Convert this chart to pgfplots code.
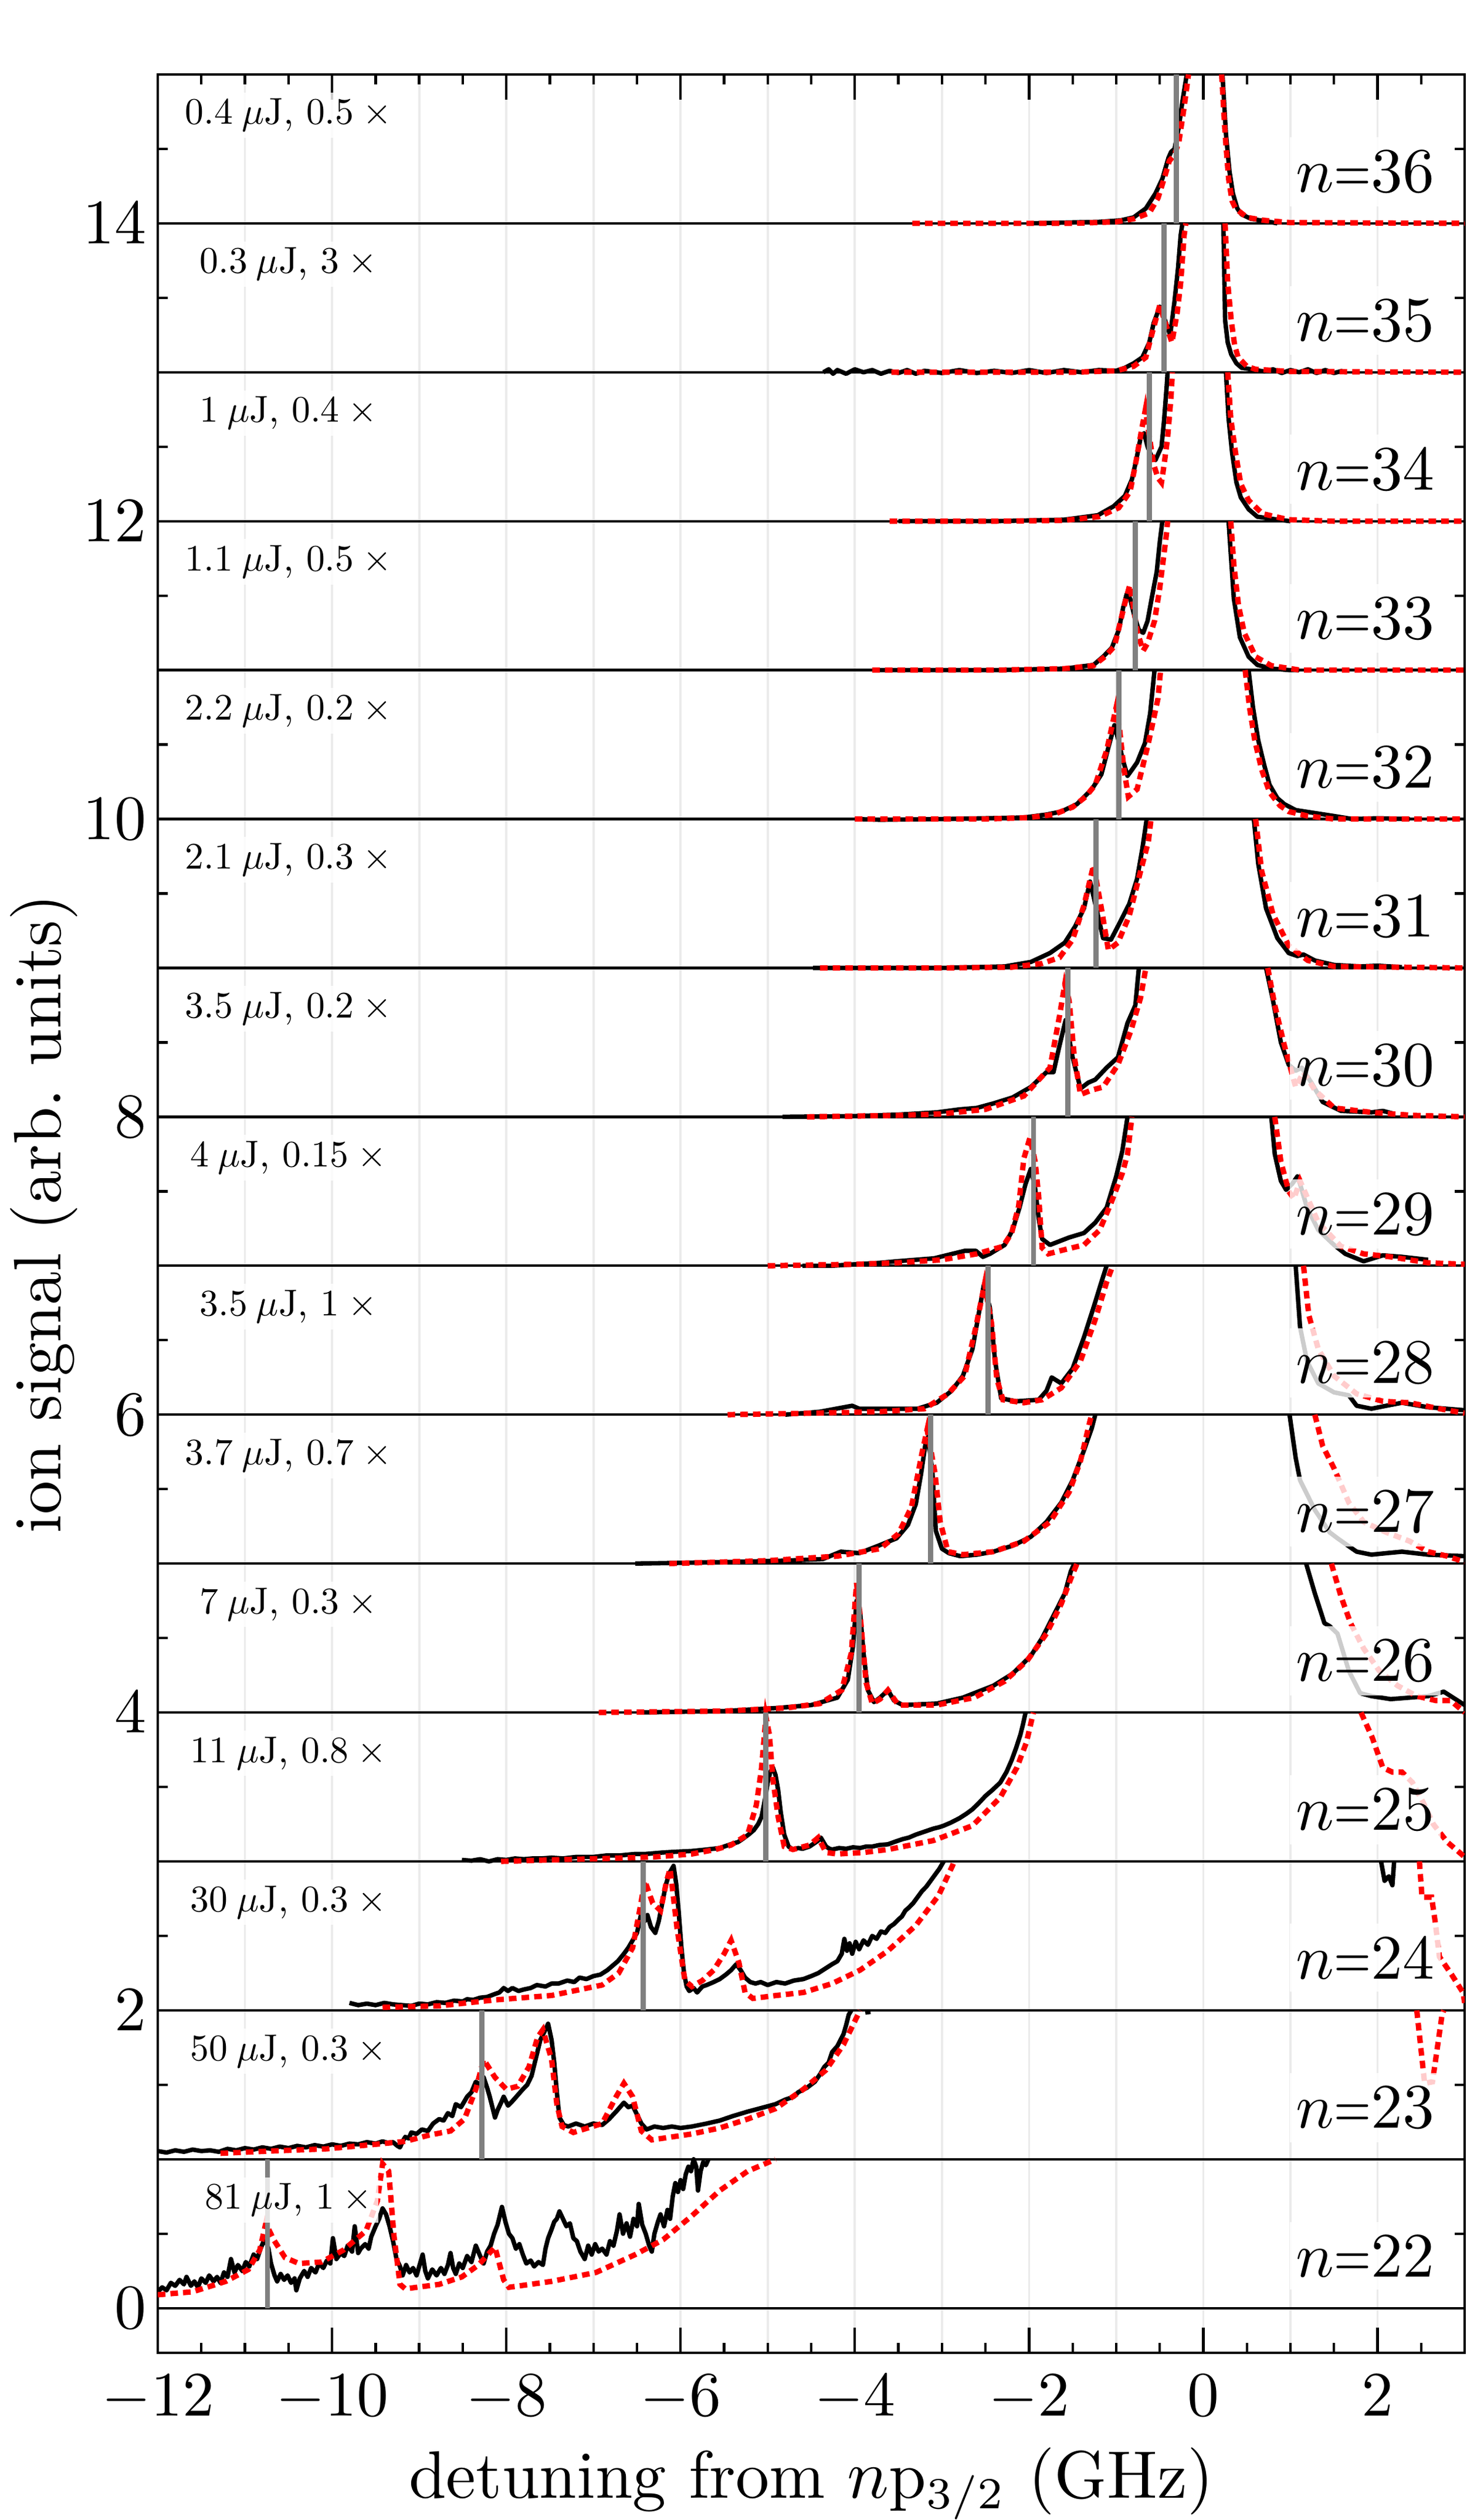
\documentclass[border=0pt]{standalone}
\usepackage{graphicx}
\usepackage{pgfplots}
\pgfplotsset{compat=1.18}
\newcommand{\nlab}[1]{$n$\scalebox{0.75}[1]{=}#1}
\newcommand{\slab}[2]{\scalebox{0.59}{\fontsize{10}{12}\selectfont #1\kern2.3pt$\mu$J, #2\kern2.3pt$\times$}}
\tikzset{
  blk/.style={black, line width=0.7pt, line join=round},
  thy/.style={red, line width=0.85pt, dash pattern=on 1.2pt off 0.8pt},
  mk/.style={black!50, line width=0.8pt},
  nbox/.style={fill=white, fill opacity=0.8, text opacity=1, inner xsep=1pt, inner ysep=2pt, anchor=base east, font=\fontsize{10}{12}\selectfont},
  sbox/.style={fill=white, fill opacity=0.8, text opacity=1, inner sep=1pt, anchor=base},
}
\begin{document}
\begin{tikzpicture}
\begin{axis}[
  name=ax,
  scale only axis, width=206.30pt, height=359.72pt,
  xmin=-12, xmax=3, ymin=-0.3, ymax=15,
  no marks, unbounded coords=jump,
  xtick={-12,-10,...,2},
  minor xtick={-11.5,-10.5,...,2.5},
  extra x ticks={-11,-9,...,1},
  extra x tick labels={},
  extra x tick style={grid=major, major tick length=1.6pt},
  xmajorgrids,
  major grid style={black!8, line width=0.35pt},
  ytick={0,2,...,14},
  minor ytick={0.5,1.5,...,14.5},
  major tick length=4pt, minor tick length=1.6pt,
  tick style={black, line width=0.4pt},
  ticklabel style={font=\fontsize{10}{12}\selectfont},
  yticklabel style={inner xsep=1.6pt},
  xlabel={detuning from $n$p$_{3/2}$ (GHz)},
  ylabel={ion signal (arb.\ units)},
  xlabel style={font=\fontsize{10.6}{13}\selectfont, at={(axis description cs:0.5,-0.0638)}, anchor=base},
  ylabel style={font=\fontsize{10.6}{13}\selectfont, at={(axis description cs:-0.0745,0.5)}, anchor=base},
]
% baselines
\addplot[black, line width=0.4pt] coordinates {
(-12,0)(3,0)(3,nan)(-12,1)(3,1)(3,nan)(-12,2)(3,2)(3,nan)(-12,3)(3,3)(3,nan)
(-12,4)(3,4)(3,nan)(-12,5)(3,5)(3,nan)(-12,6)(3,6)(3,nan)(-12,7)(3,7)(3,nan)
(-12,8)(3,8)(3,nan)(-12,9)(3,9)(3,nan)(-12,10)(3,10)(3,nan)(-12,11)(3,11)(3,nan)
(-12,12)(3,12)(3,nan)(-12,13)(3,13)(3,nan)(-12,14)(3,14)};

% ---------- n=36 ----------
\addplot[blk] coordinates {(-2.0,14.0)(-1.6,14.005)(-1.2,14.01)(-0.95,14.02)(-0.8,14.04)(-0.66,14.1)(-0.55,14.2)(-0.47,14.3)(-0.4,14.44)(-0.37,14.48)(-0.33,14.5)(-0.28,14.65)(-0.24,14.82)(-0.19,15.0)(0,nan)(0.22,15.0)(0.26,14.6)(0.3,14.35)(0.34,14.2)(0.39,14.1)(0.44,14.06)(0.55,14.03)(0.76,14.01)(0.85,14.0)};
\addplot[thy] coordinates {(-3.34,14.0)(-1.5,14.0)(-1.0,14.01)(-0.8,14.03)(-0.62,14.07)(-0.52,14.17)(-0.45,14.3)(-0.39,14.42)(-0.33,14.46)(-0.28,14.55)(-0.22,14.78)(-0.17,15.0)(0,nan)(0.21,15.0)(0.25,14.6)(0.29,14.3)(0.33,14.15)(0.37,14.1)(0.5,14.04)(0.7,14.02)(1.0,14.005)(3.0,14.0)};
% ---------- n=35 ----------
\addplot[blk] coordinates {(-4.36,13.0)(-4.3,13.02)(-4.25,12.99)(-4.2,13.015)(-4.1,12.99)(-4.0,13.02)(-3.9,13.0)(-3.8,13.015)(-3.7,12.99)(-3.6,13.01)(-3.5,12.995)(-3.4,13.015)(-3.3,12.99)(-3.2,13.01)(-3.0,12.995)(-2.8,13.015)(-2.6,12.995)(-2.4,13.01)(-2.2,12.995)(-2.0,13.015)(-1.8,12.995)(-1.6,13.015)(-1.4,13.0)(-1.2,13.015)(-1.0,13.01)(-0.9,13.03)(-0.8,13.06)(-0.7,13.1)(-0.62,13.2)(-0.57,13.33)(-0.5,13.44)(-0.44,13.35)(-0.38,13.25)(-0.33,13.48)(-0.29,13.7)(-0.26,13.92)(-0.24,14.0)(0,nan)(0.23,14.0)(0.25,13.35)(0.28,13.2)(0.32,13.12)(0.38,13.06)(0.44,13.03)(0.55,13.02)(0.7,13.005)(0.8,13.02)(0.9,12.995)(1.0,13.015)(1.1,13.0)(1.2,13.02)(1.3,12.995)(1.4,13.015)(1.5,12.995)(1.6,13.01)};
\addplot[thy] coordinates {(-3.58,13.0)(-1.5,13.0)(-1.0,13.01)(-0.8,13.04)(-0.66,13.1)(-0.58,13.28)(-0.5,13.45)(-0.43,13.32)(-0.36,13.2)(-0.3,13.4)(-0.26,13.6)(-0.22,13.92)(-0.2,14.0)(0,nan)(0.25,14.0)(0.28,13.6)(0.32,13.35)(0.36,13.18)(0.4,13.1)(0.5,13.04)(0.6,13.02)(1.0,13.005)(3.0,13.0)};
% ---------- n=34 ----------
\addplot[blk] coordinates {(-3.5,12.0)(-2.4,12.0)(-1.6,12.01)(-1.21,12.04)(-1.03,12.1)(-0.9,12.17)(-0.82,12.28)(-0.77,12.41)(-0.72,12.56)(-0.68,12.59)(-0.64,12.5)(-0.59,12.43)(-0.55,12.41)(-0.48,12.5)(-0.45,12.68)(-0.42,12.91)(-0.41,13.0)(0,nan)(0.26,13.0)(0.29,12.69)(0.33,12.46)(0.38,12.26)(0.43,12.16)(0.52,12.08)(0.62,12.03)(0.86,12.01)(1.0,12.0)};
\addplot[thy] coordinates {(-3.6,12.0)(-2.4,12.0)(-1.6,12.005)(-1.2,12.03)(-0.97,12.09)(-0.84,12.2)(-0.77,12.41)(-0.7,12.64)(-0.665,12.75)(-0.63,12.61)(-0.57,12.38)(-0.52,12.29)(-0.48,12.26)(-0.45,12.38)(-0.41,12.56)(-0.37,12.84)(-0.355,13.0)(0,nan)(0.28,13.0)(0.315,12.69)(0.37,12.46)(0.43,12.25)(0.52,12.14)(0.68,12.05)(0.98,12.01)(1.5,12.0)(3.0,12.0)};
% ---------- n=33 ----------
\addplot[blk] coordinates {(-3.8,11.0)(-2.37,11.0)(-1.59,11.01)(-1.26,11.035)(-1.15,11.09)(-1.05,11.15)(-0.97,11.27)(-0.92,11.42)(-0.88,11.51)(-0.84,11.48)(-0.79,11.36)(-0.74,11.27)(-0.69,11.25)(-0.64,11.33)(-0.59,11.49)(-0.535,11.66)(-0.5,11.86)(-0.47,12.0)(0,nan)(0.29,12.0)(0.315,11.78)(0.35,11.48)(0.42,11.22)(0.52,11.09)(0.62,11.035)(0.78,11.01)(0.99,11.0)(1.1,11.0)};
\addplot[thy] coordinates {(-3.8,11.0)(-2.37,11.0)(-1.59,11.01)(-1.26,11.03)(-1.13,11.09)(-1.02,11.16)(-0.95,11.33)(-0.9,11.45)(-0.845,11.57)(-0.81,11.45)(-0.755,11.25)(-0.69,11.13)(-0.64,11.18)(-0.56,11.33)(-0.5,11.55)(-0.445,11.81)(-0.42,11.93)(-0.41,12.0)(0,nan)(0.315,12.0)(0.35,11.71)(0.405,11.43)(0.47,11.25)(0.6,11.09)(0.78,11.03)(1.11,11.0)(3.0,11.0)};
% ---------- n=32 ----------
\addplot[blk] coordinates {(-4.0,10.0)(-3.71,9.995)(-3.0,10.0)(-2.5,10.005)(-2.06,10.01)(-1.8,10.03)(-1.63,10.05)(-1.45,10.1)(-1.28,10.2)(-1.17,10.3)(-1.09,10.48)(-1.02,10.63)(-0.97,10.52)(-0.93,10.41)(-0.87,10.29)(-0.82,10.33)(-0.76,10.38)(-0.67,10.51)(-0.61,10.71)(-0.56,11.0)(0,nan)(0.52,11.0)(0.57,10.75)(0.63,10.53)(0.7,10.36)(0.76,10.23)(0.85,10.14)(0.93,10.1)(1.06,10.06)(1.28,10.04)(1.5,10.02)(1.71,10.0)(2.0,10.005)(2.37,10.0)};
\addplot[thy] coordinates {(-4.0,10.0)(-2.5,10.0)(-2.0,10.01)(-1.72,10.03)(-1.5,10.08)(-1.35,10.15)(-1.24,10.23)(-1.11,10.46)(-1.0,10.75)(-0.96,10.6)(-0.91,10.33)(-0.86,10.15)(-0.76,10.2)(-0.63,10.51)(-0.52,10.81)(-0.49,11.0)(0,nan)(0.48,11.0)(0.53,10.75)(0.59,10.53)(0.67,10.33)(0.76,10.18)(0.88,10.09)(0.98,10.05)(1.2,10.02)(1.5,10.0)(3.0,10.0)};
% ---------- n=31 ----------
\addplot[blk] coordinates {(-4.48,9.0)(-3.0,9.0)(-2.28,9.01)(-1.98,9.04)(-1.76,9.1)(-1.59,9.17)(-1.47,9.28)(-1.37,9.4)(-1.3,9.58)(-1.24,9.43)(-1.15,9.2)(-1.06,9.19)(-0.98,9.28)(-0.85,9.43)(-0.76,9.6)(-0.7,9.8)(-0.65,10.0)(0,nan)(0.58,10.0)(0.63,9.7)(0.72,9.4)(0.85,9.2)(0.98,9.1)(1.08,9.08)(1.15,9.09)(1.28,9.05)(1.5,9.02)(1.8,9.01)(2.0,9.015)(2.28,9.005)};
\addplot[thy] coordinates {(-4.4,9.0)(-3.0,9.0)(-2.2,9.005)(-1.85,9.03)(-1.65,9.07)(-1.5,9.19)(-1.37,9.42)(-1.26,9.69)(-1.17,9.4)(-1.09,9.12)(-0.98,9.17)(-0.85,9.35)(-0.72,9.65)(-0.63,9.85)(-0.6,10.0)(0,nan)(0.6,10.0)(0.67,9.65)(0.8,9.36)(0.98,9.15)(1.2,9.05)(1.5,9.01)(3.0,9.0)};
% ---------- n=30 ----------
\addplot[blk] coordinates {(-4.83,8.0)(-4.0,8.005)(-3.5,8.015)(-3.06,8.03)(-2.8,8.05)(-2.6,8.06)(-2.41,8.09)(-2.19,8.13)(-1.98,8.2)(-1.8,8.3)(-1.72,8.3)(-1.65,8.48)(-1.58,8.65)(-1.5,8.4)(-1.41,8.19)(-1.32,8.23)(-1.24,8.25)(-1.11,8.33)(-0.98,8.4)(-0.87,8.63)(-0.78,8.75)(-0.74,9.0)(0,nan)(0.72,9.0)(0.8,8.78)(0.89,8.5)(0.98,8.35)(1.06,8.31)(1.13,8.33)(1.24,8.23)(1.37,8.1)(1.58,8.04)(1.93,8.03)(2.06,8.04)(2.19,8.02)};
\addplot[thy] coordinates {(-4.55,8.0)(-3.5,8.01)(-3.0,8.02)(-2.5,8.05)(-2.06,8.14)(-1.76,8.33)(-1.65,8.68)(-1.59,8.89)(-1.54,8.78)(-1.48,8.4)(-1.41,8.15)(-1.28,8.18)(-1.15,8.2)(-0.98,8.35)(-0.83,8.58)(-0.72,8.8)(-0.66,9.0)(0,nan)(0.74,9.0)(0.82,8.75)(0.93,8.48)(1.06,8.2)(1.15,8.3)(1.28,8.18)(1.5,8.06)(1.93,8.03)(2.4,8.01)(3.0,8.0)};
% ---------- n=29 ----------
\addplot[blk] coordinates {(-4.6,7.0)(-4.27,7.0)(-3.71,7.02)(-3.52,7.03)(-3.09,7.05)(-2.74,7.1)(-2.61,7.1)(-2.53,7.06)(-2.45,7.08)(-2.28,7.14)(-2.19,7.24)(-2.11,7.39)(-2.04,7.55)(-1.98,7.65)(-1.93,7.52)(-1.89,7.32)(-1.85,7.18)(-1.76,7.14)(-1.54,7.19)(-1.37,7.22)(-1.24,7.29)(-1.11,7.39)(-1.0,7.6)(-0.93,7.77)(-0.87,8.0)(0,nan)(0.78,8.0)(0.82,7.75)(0.89,7.57)(0.95,7.51)(1.02,7.55)(1.08,7.6)(1.11,7.55)(1.19,7.39)(1.32,7.24)(1.5,7.14)(1.63,7.08)(1.84,7.03)(2.06,7.07)(2.28,7.06)(2.58,7.04)};
\addplot[thy] coordinates {(-5.0,7.0)(-4.0,7.01)(-3.5,7.02)(-3.0,7.04)(-2.6,7.08)(-2.3,7.13)(-2.2,7.22)(-2.12,7.4)(-2.06,7.72)(-1.99,7.86)(-1.93,7.7)(-1.89,7.47)(-1.85,7.12)(-1.78,7.08)(-1.58,7.11)(-1.37,7.14)(-1.19,7.24)(-1.06,7.42)(-0.93,7.62)(-0.87,7.75)(-0.82,8.0)(0,nan)(0.82,8.0)(0.89,7.7)(0.98,7.5)(1.04,7.45)(1.11,7.57)(1.2,7.45)(1.32,7.29)(1.58,7.13)(1.84,7.08)(2.15,7.06)(2.58,7.02)(3.0,7.01)};
% ---------- n=28 ----------
\addplot[blk] coordinates {(-4.8,6.0)(-4.4,6.02)(-4.03,6.06)(-3.95,6.04)(-3.71,6.04)(-3.28,6.04)(-3.06,6.08)(-2.89,6.16)(-2.76,6.26)(-2.65,6.44)(-2.58,6.67)(-2.52,6.87)(-2.45,6.72)(-2.39,6.36)(-2.32,6.11)(-2.15,6.09)(-1.89,6.1)(-1.8,6.16)(-1.74,6.25)(-1.63,6.21)(-1.5,6.31)(-1.37,6.52)(-1.26,6.72)(-1.17,6.89)(-1.11,7.0)(0,nan)(1.06,7.0)(1.11,6.59)(1.19,6.36)(1.32,6.21)(1.5,6.15)(1.67,6.13)(1.76,6.06)(1.93,6.04)(2.1,6.06)(2.28,6.08)(2.58,6.05)(3.0,6.03)};
\addplot[thy] coordinates {(-5.46,6.0)(-4.5,6.01)(-3.71,6.02)(-3.2,6.04)(-2.93,6.14)(-2.74,6.26)(-2.61,6.59)(-2.51,6.88)(-2.43,6.61)(-2.37,6.24)(-2.3,6.1)(-2.06,6.08)(-1.85,6.1)(-1.63,6.18)(-1.41,6.36)(-1.24,6.64)(-1.11,6.89)(-1.04,7.0)(0,nan)(1.15,7.0)(1.21,6.67)(1.32,6.44)(1.5,6.26)(1.76,6.14)(2.06,6.09)(2.37,6.08)(2.71,6.04)(3.0,6.01)};
% ---------- n=27 ----------
\addplot[blk] coordinates {(-6.52,5.0)(-5.5,5.01)(-4.8,5.02)(-4.37,5.03)(-4.16,5.08)(-3.95,5.07)(-3.73,5.12)(-3.52,5.17)(-3.39,5.26)(-3.3,5.4)(-3.24,5.6)(-3.19,5.8)(-3.16,5.85)(-3.11,5.62)(-3.07,5.22)(-3.0,5.1)(-2.92,5.07)(-2.79,5.05)(-2.6,5.06)(-2.41,5.08)(-2.19,5.12)(-1.98,5.18)(-1.8,5.28)(-1.63,5.41)(-1.5,5.56)(-1.37,5.76)(-1.28,5.91)(-1.24,6.0)(0,nan)(0.99,6.0)(1.06,5.71)(1.11,5.56)(1.28,5.36)(1.45,5.21)(1.54,5.17)(1.71,5.1)(1.76,5.08)(1.93,5.06)(2.1,5.07)(2.28,5.08)(2.58,5.06)(3.0,5.05)};
\addplot[thy] coordinates {(-6.13,5.0)(-5.0,5.02)(-4.2,5.05)(-3.71,5.1)(-3.5,5.2)(-3.35,5.38)(-3.23,5.74)(-3.17,5.9)(-3.08,5.61)(-3.02,5.28)(-2.93,5.08)(-2.76,5.06)(-2.41,5.08)(-2.06,5.15)(-1.76,5.28)(-1.54,5.48)(-1.41,5.69)(-1.3,5.96)(-1.28,6.0)(0,nan)(1.28,6.0)(1.37,5.79)(1.5,5.64)(1.67,5.41)(1.84,5.28)(2.1,5.21)(2.37,5.15)(2.58,5.08)(2.8,5.05)(3.0,5.01)};
% ---------- n=26 ----------
\addplot[blk] coordinates {(-6.5,4.0)(-5.5,4.01)(-4.9,4.03)(-4.5,4.05)(-4.2,4.1)(-4.08,4.22)(-4.02,4.45)(-3.98,4.75)(-3.94,4.68)(-3.9,4.4)(-3.85,4.15)(-3.78,4.07)(-3.71,4.1)(-3.62,4.15)(-3.55,4.08)(-3.45,4.05)(-3.06,4.06)(-2.76,4.1)(-2.41,4.18)(-2.19,4.26)(-1.98,4.38)(-1.85,4.5)(-1.72,4.65)(-1.59,4.8)(-1.52,4.95)(-1.48,5.0)(0,nan)(1.18,5.0)(1.28,4.8)(1.39,4.6)(1.45,4.58)(1.54,4.53)(1.67,4.28)(1.8,4.13)(1.93,4.11)(2.15,4.09)(2.37,4.1)(2.58,4.11)(2.76,4.14)(3.0,4.05)};
\addplot[thy] coordinates {(-6.94,4.0)(-5.5,4.01)(-4.8,4.03)(-4.4,4.06)(-4.15,4.15)(-4.04,4.4)(-3.98,4.87)(-3.93,4.6)(-3.87,4.2)(-3.8,4.06)(-3.71,4.09)(-3.62,4.15)(-3.5,4.05)(-3.06,4.05)(-2.63,4.1)(-2.28,4.21)(-2.02,4.35)(-1.8,4.53)(-1.63,4.73)(-1.52,4.9)(-1.45,5.0)(0,nan)(1.47,5.0)(1.58,4.78)(1.69,4.6)(1.84,4.43)(2.02,4.28)(2.23,4.18)(2.45,4.11)(2.67,4.08)(2.84,4.08)(3.0,4.0)};
% ---------- n=25 ----------
\addplot[blk] coordinates {(-8.51,3.01)(-8.4,3.005)(-8.3,3.015)(-8.2,3.0)(-8.1,3.015)(-8.0,3.01)(-7.9,3.02)(-7.8,3.015)(-7.7,3.02)(-7.6,3.02)(-7.48,3.025)(-7.35,3.02)(-7.2,3.03)(-7.0,3.03)(-6.85,3.04)(-6.7,3.04)(-6.52,3.05)(-6.4,3.05)(-6.2,3.06)(-6.05,3.065)(-5.87,3.07)(-5.7,3.08)(-5.55,3.09)(-5.45,3.11)(-5.4,3.12)(-5.34,3.13)(-5.29,3.15)(-5.22,3.18)(-5.16,3.21)(-5.11,3.25)(-5.07,3.3)(-5.03,3.42)(-5.0,3.53)(-4.97,3.6)(-4.94,3.63)(-4.91,3.58)(-4.88,3.48)(-4.85,3.33)(-4.81,3.18)(-4.76,3.1)(-4.71,3.08)(-4.65,3.09)(-4.6,3.085)(-4.52,3.1)(-4.47,3.12)(-4.42,3.14)(-4.39,3.16)(-4.36,3.13)(-4.33,3.1)(-4.29,3.085)(-4.26,3.08)(-4.18,3.09)(-4.1,3.085)(-4.02,3.095)(-3.94,3.09)(-3.87,3.1)(-3.8,3.1)(-3.72,3.11)(-3.62,3.115)(-3.55,3.13)(-3.45,3.15)(-3.38,3.16)(-3.3,3.18)(-3.2,3.2)(-3.1,3.22)(-3.03,3.23)(-2.98,3.24)(-2.9,3.26)(-2.8,3.29)(-2.72,3.32)(-2.65,3.35)(-2.58,3.39)(-2.5,3.44)(-2.42,3.48)(-2.33,3.53)(-2.26,3.6)(-2.2,3.68)(-2.15,3.76)(-2.1,3.85)(-2.07,3.92)(-2.04,4.0)};
\addplot[thy] coordinates {(-8.06,3.0)(-7.5,3.01)(-6.84,3.02)(-6.3,3.03)(-5.87,3.05)(-5.6,3.08)(-5.42,3.11)(-5.23,3.18)(-5.13,3.38)(-5.07,3.63)(-5.02,3.97)(-4.98,3.85)(-4.94,3.55)(-4.88,3.3)(-4.81,3.1)(-4.71,3.08)(-4.52,3.11)(-4.42,3.16)(-4.33,3.06)(-4.2,3.05)(-3.9,3.06)(-3.62,3.08)(-3.1,3.14)(-2.65,3.24)(-2.33,3.43)(-2.14,3.63)(-2.03,3.8)(-1.95,4.0)(0,nan)(1.81,4.0)(1.94,3.83)(2.06,3.63)(2.17,3.6)(2.28,3.6)(2.4,3.53)(2.52,3.4)(2.64,3.25)(2.8,3.13)(2.98,3.04)(3.0,3.03)};
% ---------- n=24 ----------
\addplot[blk] coordinates {(-9.8,2.05)(-9.7,2.035)(-9.6,2.045)(-9.5,2.035)(-9.4,2.05)(-9.3,2.04)(-9.2,2.035)(-9.09,2.03)(-9.0,2.045)(-8.9,2.04)(-8.8,2.055)(-8.7,2.05)(-8.6,2.065)(-8.5,2.06)(-8.45,2.075)(-8.38,2.07)(-8.3,2.085)(-8.22,2.09)(-8.13,2.11)(-8.08,2.12)(-8.03,2.15)(-7.98,2.13)(-7.93,2.15)(-7.86,2.13)(-7.8,2.14)(-7.72,2.15)(-7.65,2.17)(-7.55,2.16)(-7.48,2.18)(-7.4,2.18)(-7.3,2.2)(-7.22,2.19)(-7.16,2.22)(-7.08,2.21)(-7.0,2.23)(-6.92,2.24)(-6.84,2.27)(-6.78,2.3)(-6.72,2.33)(-6.65,2.38)(-6.6,2.42)(-6.55,2.47)(-6.5,2.52)(-6.47,2.6)(-6.44,2.68)(-6.41,2.6)(-6.38,2.64)(-6.34,2.56)(-6.29,2.52)(-6.25,2.6)(-6.21,2.72)(-6.17,2.84)(-6.13,2.92)(-6.08,2.97)(-6.05,2.85)(-6.02,2.65)(-5.99,2.42)(-5.96,2.25)(-5.93,2.16)(-5.9,2.13)(-5.85,2.15)(-5.81,2.12)(-5.75,2.16)(-5.7,2.17)(-5.62,2.19)(-5.55,2.21)(-5.48,2.24)(-5.42,2.27)(-5.36,2.31)(-5.31,2.27)(-5.26,2.22)(-5.2,2.19)(-5.14,2.18)(-5.08,2.19)(-5.0,2.17)(-4.9,2.19)(-4.8,2.18)(-4.7,2.2)(-4.59,2.21)(-4.5,2.23)(-4.42,2.25)(-4.34,2.28)(-4.26,2.31)(-4.2,2.33)(-4.15,2.38)(-4.12,2.48)(-4.09,2.4)(-4.06,2.45)(-4.03,2.38)(-3.99,2.46)(-3.95,2.41)(-3.9,2.47)(-3.85,2.44)(-3.8,2.5)(-3.75,2.48)(-3.7,2.53)(-3.65,2.52)(-3.6,2.56)(-3.55,2.58)(-3.5,2.61)(-3.46,2.63)(-3.42,2.67)(-3.38,2.69)(-3.33,2.72)(-3.28,2.76)(-3.23,2.8)(-3.18,2.83)(-3.13,2.87)(-3.08,2.91)(-3.03,2.95)(-2.98,3.0)(0,nan)(2.04,3.0)(2.08,2.87)(2.13,2.9)(2.17,2.84)(2.19,3.0)};
\addplot[thy] coordinates {(-9.42,2.02)(-8.77,2.03)(-8.13,2.07)(-7.48,2.1)(-6.9,2.17)(-6.71,2.25)(-6.55,2.42)(-6.47,2.67)(-6.41,2.87)(-6.32,2.72)(-6.23,2.67)(-6.16,2.87)(-6.12,2.95)(-6.04,2.55)(-5.95,2.2)(-5.87,2.16)(-5.75,2.2)(-5.62,2.27)(-5.5,2.38)(-5.42,2.47)(-5.33,2.32)(-5.26,2.12)(-5.17,2.08)(-4.9,2.1)(-4.59,2.12)(-4.26,2.18)(-3.94,2.27)(-3.62,2.4)(-3.3,2.57)(-3.04,2.77)(-2.88,2.97)(-2.86,3.0)(0,nan)(2.48,3.0)(2.51,2.76)(2.62,2.76)(2.66,2.6)(2.71,2.36)(2.85,2.24)(2.98,2.12)(3.0,2.05)};
% ---------- n=23 ----------
\addplot[blk] coordinates {(-12.0,1.055)(-11.9,1.045)(-11.8,1.06)(-11.7,1.05)(-11.6,1.065)(-11.5,1.055)(-11.4,1.06)(-11.3,1.05)(-11.2,1.07)(-11.1,1.06)(-11.0,1.075)(-10.9,1.065)(-10.8,1.08)(-10.7,1.07)(-10.6,1.085)(-10.5,1.075)(-10.4,1.09)(-10.3,1.08)(-10.2,1.095)(-10.1,1.085)(-10.0,1.1)(-9.9,1.09)(-9.8,1.105)(-9.7,1.1)(-9.6,1.115)(-9.5,1.105)(-9.42,1.12)(-9.36,1.11)(-9.3,1.115)(-9.25,1.09)(-9.22,1.08)(-9.19,1.12)(-9.16,1.15)(-9.12,1.14)(-9.09,1.18)(-9.03,1.17)(-8.97,1.2)(-8.9,1.19)(-8.84,1.24)(-8.77,1.27)(-8.72,1.26)(-8.67,1.31)(-8.62,1.29)(-8.58,1.37)(-8.52,1.35)(-8.45,1.42)(-8.4,1.45)(-8.35,1.52)(-8.3,1.5)(-8.26,1.55)(-8.22,1.48)(-8.19,1.42)(-8.16,1.35)(-8.13,1.28)(-8.1,1.33)(-8.06,1.38)(-8.03,1.42)(-7.98,1.36)(-7.93,1.39)(-7.87,1.43)(-7.81,1.47)(-7.76,1.5)(-7.71,1.56)(-7.66,1.68)(-7.61,1.8)(-7.56,1.86)(-7.52,1.91)(-7.48,1.8)(-7.45,1.65)(-7.42,1.45)(-7.39,1.28)(-7.34,1.23)(-7.29,1.22)(-7.2,1.24)(-7.1,1.22)(-7.0,1.24)(-6.9,1.23)(-6.82,1.27)(-6.74,1.32)(-6.68,1.36)(-6.65,1.38)(-6.6,1.35)(-6.55,1.36)(-6.5,1.3)(-6.45,1.24)(-6.39,1.2)(-6.3,1.22)(-6.2,1.21)(-6.1,1.22)(-6.0,1.21)(-5.87,1.22)(-5.7,1.24)(-5.55,1.26)(-5.4,1.29)(-5.23,1.32)(-5.1,1.34)(-4.91,1.37)(-4.8,1.4)(-4.7,1.42)(-4.65,1.45)(-4.55,1.48)(-4.46,1.52)(-4.4,1.57)(-4.35,1.62)(-4.3,1.65)(-4.26,1.72)(-4.2,1.76)(-4.13,1.84)(-4.1,1.9)(-4.07,1.97)(-4.04,2.0)(0,nan)(-3.88,1.985)(-3.82,1.99)};
\addplot[thy] coordinates {(-11.28,1.04)(-10.71,1.055)(-10.06,1.07)(-9.42,1.105)(-9.16,1.12)(-8.9,1.16)(-8.64,1.19)(-8.48,1.27)(-8.35,1.47)(-8.26,1.67)(-8.13,1.55)(-8.0,1.47)(-7.87,1.49)(-7.74,1.62)(-7.64,1.82)(-7.58,1.87)(-7.48,1.67)(-7.42,1.37)(-7.36,1.22)(-7.23,1.18)(-6.9,1.24)(-6.74,1.42)(-6.65,1.51)(-6.55,1.42)(-6.45,1.19)(-6.33,1.13)(-5.87,1.17)(-5.55,1.21)(-5.23,1.27)(-4.91,1.34)(-4.59,1.47)(-4.33,1.6)(-4.13,1.77)(-3.94,2.0)(0,nan)(2.45,2.0)(2.54,1.51)(2.63,1.52)(2.74,1.97)(2.76,2.0)};
% ---------- n=22 ----------
\addplot[blk] coordinates {(-12.0,0.11)(-11.95,0.14)(-11.9,0.12)(-11.85,0.17)(-11.8,0.15)(-11.75,0.19)(-11.7,0.16)(-11.67,0.21)(-11.62,0.15)(-11.58,0.18)(-11.54,0.14)(-11.5,0.2)(-11.45,0.17)(-11.41,0.22)(-11.36,0.18)(-11.32,0.21)(-11.28,0.17)(-11.24,0.24)(-11.2,0.21)(-11.16,0.33)(-11.12,0.24)(-11.08,0.29)(-11.03,0.25)(-10.99,0.31)(-10.95,0.28)(-10.9,0.36)(-10.86,0.33)(-10.82,0.4)(-10.77,0.47)(-10.73,0.4)(-10.7,0.3)(-10.66,0.22)(-10.63,0.18)(-10.59,0.23)(-10.55,0.19)(-10.51,0.22)(-10.47,0.17)(-10.43,0.2)(-10.41,0.12)(-10.37,0.2)(-10.32,0.25)(-10.28,0.21)(-10.24,0.27)(-10.19,0.24)(-10.15,0.3)(-10.1,0.27)(-10.06,0.32)(-10.02,0.3)(-9.99,0.47)(-9.95,0.33)(-9.9,0.37)(-9.86,0.35)(-9.82,0.42)(-9.77,0.38)(-9.74,0.55)(-9.7,0.37)(-9.67,0.4)(-9.62,0.43)(-9.58,0.4)(-9.55,0.48)(-9.5,0.55)(-9.46,0.6)(-9.42,0.67)(-9.38,0.63)(-9.34,0.55)(-9.3,0.45)(-9.26,0.33)(-9.22,0.28)(-9.19,0.22)(-9.15,0.29)(-9.11,0.24)(-9.07,0.27)(-9.03,0.22)(-8.99,0.3)(-8.96,0.36)(-8.93,0.25)(-8.9,0.2)(-8.85,0.26)(-8.8,0.22)(-8.75,0.27)(-8.71,0.23)(-8.67,0.29)(-8.64,0.37)(-8.61,0.27)(-8.58,0.23)(-8.54,0.3)(-8.5,0.27)(-8.45,0.35)(-8.4,0.31)(-8.35,0.42)(-8.3,0.35)(-8.26,0.3)(-8.22,0.38)(-8.18,0.42)(-8.14,0.5)(-8.1,0.56)(-8.05,0.68)(-8.01,0.58)(-7.97,0.5)(-7.93,0.47)(-7.89,0.4)(-7.85,0.43)(-7.81,0.36)(-7.77,0.3)(-7.72,0.32)(-7.68,0.28)(-7.63,0.31)(-7.58,0.29)(-7.55,0.4)(-7.52,0.47)(-7.48,0.53)(-7.45,0.58)(-7.42,0.6)(-7.39,0.65)(-7.35,0.6)(-7.31,0.55)(-7.27,0.57)(-7.23,0.47)(-7.19,0.45)(-7.15,0.38)(-7.1,0.33)(-7.06,0.42)(-7.02,0.36)(-6.98,0.43)(-6.94,0.38)(-6.9,0.4)(-6.85,0.36)(-6.81,0.45)(-6.77,0.42)(-6.73,0.52)(-6.7,0.63)(-6.66,0.5)(-6.62,0.57)(-6.58,0.48)(-6.54,0.6)(-6.5,0.55)(-6.48,0.7)(-6.44,0.56)(-6.4,0.5)(-6.36,0.42)(-6.33,0.38)(-6.3,0.5)(-6.26,0.58)(-6.23,0.63)(-6.19,0.55)(-6.15,0.66)(-6.12,0.6)(-6.09,0.75)(-6.06,0.84)(-6.03,0.78)(-6.0,0.86)(-5.97,0.8)(-5.94,0.9)(-5.91,0.95)(-5.88,0.92)(-5.85,1.0)(-5.82,0.95)(-5.8,0.79)(-5.77,0.92)(-5.74,0.98)(-5.71,0.96)(-5.68,1.0)};
\addplot[thy] coordinates {(-12.0,0.09)(-11.6,0.11)(-11.22,0.18)(-10.96,0.26)(-10.83,0.39)(-10.76,0.57)(-10.67,0.46)(-10.54,0.34)(-10.38,0.3)(-10.12,0.31)(-9.87,0.39)(-9.61,0.52)(-9.48,0.72)(-9.42,0.97)(-9.35,0.92)(-9.29,0.49)(-9.22,0.16)(-9.16,0.13)(-8.77,0.16)(-8.51,0.21)(-8.32,0.29)(-8.13,0.41)(-8.03,0.19)(-7.97,0.14)(-7.48,0.18)(-6.97,0.24)(-6.52,0.36)(-6.2,0.46)(-5.87,0.62)(-5.55,0.79)(-5.23,0.92)(-4.91,1.0)};

% resonance markers
\addplot[mk] coordinates {
(-10.74,0)(-10.74,1)(0,nan)(-8.28,1)(-8.28,2)(0,nan)(-6.43,2)(-6.43,3)(0,nan)
(-5.02,3)(-5.02,4)(0,nan)(-3.95,4)(-3.95,5)(0,nan)(-3.13,5)(-3.13,6)(0,nan)
(-2.47,6)(-2.47,7)(0,nan)(-1.95,7)(-1.95,8)(0,nan)(-1.555,8)(-1.555,9)(0,nan)
(-1.23,9)(-1.23,10)(0,nan)(-0.97,10)(-0.97,11)(0,nan)(-0.78,11)(-0.78,12)(0,nan)
(-0.62,12)(-0.62,13)(0,nan)(-0.45,13)(-0.45,14)(0,nan)(-0.31,14)(-0.31,15)};

% labels
\node[nbox] at (axis cs:2.74,14.21) {\nlab{36}};
\node[nbox] at (axis cs:2.74,13.21) {\nlab{35}};
\node[nbox] at (axis cs:2.74,12.21) {\nlab{34}};
\node[nbox] at (axis cs:2.74,11.21) {\nlab{33}};
\node[nbox] at (axis cs:2.74,10.21) {\nlab{32}};
\node[nbox] at (axis cs:2.74,9.21) {\nlab{31}};
\node[nbox] at (axis cs:2.74,8.21) {\nlab{30}};
\node[nbox] at (axis cs:2.74,7.21) {\nlab{29}};
\node[nbox] at (axis cs:2.74,6.21) {\nlab{28}};
\node[nbox] at (axis cs:2.74,5.21) {\nlab{27}};
\node[nbox] at (axis cs:2.74,4.21) {\nlab{26}};
\node[nbox] at (axis cs:2.74,3.21) {\nlab{25}};
\node[nbox] at (axis cs:2.74,2.21) {\nlab{24}};
\node[nbox] at (axis cs:2.74,1.21) {\nlab{23}};
\node[nbox] at (axis cs:2.74,0.21) {\nlab{22}};

\node[sbox] at (axis cs:-10.5,14.665) {\slab{0.4}{0.5}};
\node[sbox] at (axis cs:-10.5,13.665) {\slab{0.3}{3}};
\node[sbox] at (axis cs:-10.5,12.665) {\slab{1}{0.4}};
\node[sbox] at (axis cs:-10.5,11.665) {\slab{1.1}{0.5}};
\node[sbox] at (axis cs:-10.5,10.665) {\slab{2.2}{0.2}};
\node[sbox] at (axis cs:-10.5,9.665) {\slab{2.1}{0.3}};
\node[sbox] at (axis cs:-10.5,8.665) {\slab{3.5}{0.2}};
\node[sbox] at (axis cs:-10.5,7.665) {\slab{4}{0.15}};
\node[sbox] at (axis cs:-10.5,6.665) {\slab{3.5}{1}};
\node[sbox] at (axis cs:-10.5,5.665) {\slab{3.7}{0.7}};
\node[sbox] at (axis cs:-10.5,4.665) {\slab{7}{0.3}};
\node[sbox] at (axis cs:-10.5,3.665) {\slab{11}{0.8}};
\node[sbox] at (axis cs:-10.5,2.665) {\slab{30}{0.3}};
\node[sbox] at (axis cs:-10.5,1.665) {\slab{50}{0.3}};
\node[sbox] at (axis cs:-10.5,0.665) {\slab{81}{1}};
\end{axis}
\pgfresetboundingbox
\path[use as bounding box] ([shift={(-24.91pt,-26.39pt)}]ax.south west) rectangle ([shift={(0.28pt,11.76pt)}]ax.north east);
\end{tikzpicture}
\end{document}
